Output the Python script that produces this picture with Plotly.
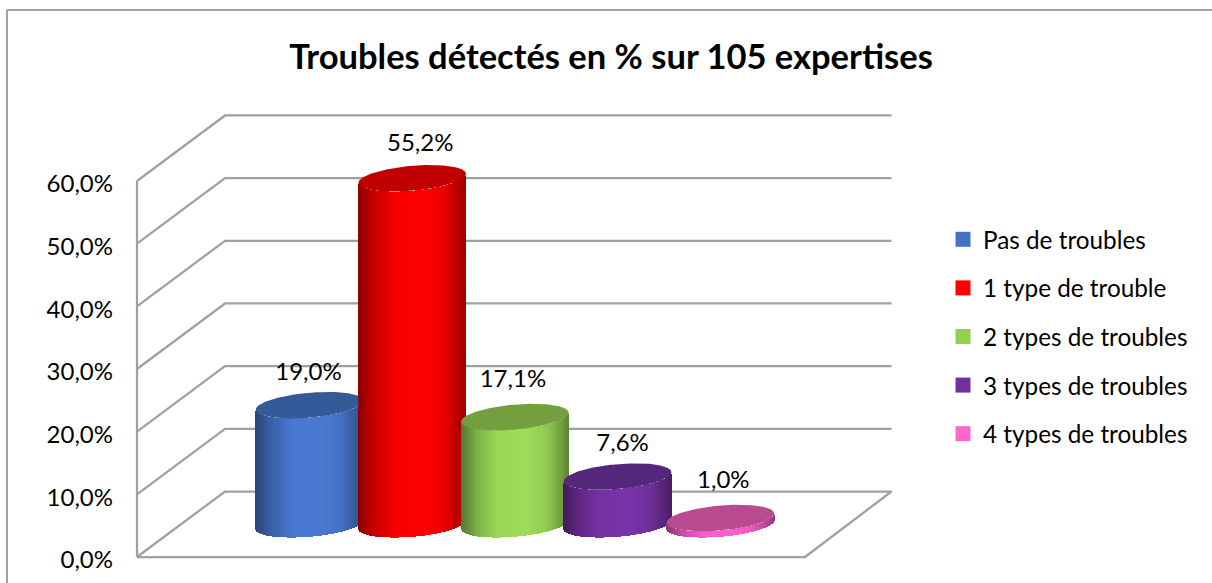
import numpy as np
import plotly.graph_objects as go

# ---------- data ----------
categories = ["Pas de troubles", "1 type de trouble", "2 types de troubles",
              "3 types de troubles", "4 types de troubles"]
values = [19.0, 55.2, 17.1, 7.6, 1.0]
tick_values = [0, 10, 20, 30, 40, 50, 60]
tick_labels = ["0,0%", "10,0%", "20,0%", "30,0%", "40,0%", "50,0%", "60,0%"]

# ---------- styles ----------
legend_colors = ["#4472C4", "#FF0000", "#92D050", "#7030A0", "#FF66CC"]
body_colors = [(74, 123, 212), (255, 0, 0), (158, 222, 90), (122, 51, 168), (255, 95, 208)]
cap_colors = ["#355A98", "#C00000", "#739F3F", "#54267C", "#B84A90"]
GRID = "#A0A0A0"
FONT = "Lato, Carlito, Calibri, sans-serif"

# ---------- scale: 1 category = PX_CAT px, 1 % = PX_VAL px ----------
W, H = 1212, 583
PX_CAT = 102.7
PX_VAL = 6.267
X_FIRST_PX = 309.5
Y_ZERO_PX = 557.0

x_range = [-X_FIRST_PX / PX_CAT, (W - X_FIRST_PX) / PX_CAT]
y_range = [-(H - Y_ZERO_PX) / PX_VAL, Y_ZERO_PX / PX_VAL]

# oblique box (category / value units)
WALL_X = (137 - X_FIRST_PX) / PX_CAT
DEPTH_X = 88 / PX_CAT
DEPTH_V = 65.5 / PX_VAL
FLOOR_W = 668 / PX_CAT
BASE_V = DEPTH_V / 2
BACK_END_TRIM = 1.5 / PX_CAT

# cylinder section (tilted ellipse)
RX = 53.8 / PX_CAT
RY = 12.5 / PX_VAL
TILT = 4.5 / PX_VAL

stops_t = [0.0, 0.05, 0.14, 0.34, 0.60, 0.80, 0.95, 1.0]
stops_f = [0.55, 0.62, 0.78, 0.97, 1.0, 0.92, 0.70, 0.60]

label_nudge_px = [(-1, 31), (8, 33), (-2, 36), (5, 32), (3, 36)]

fig = go.Figure()


def box_line(xs, ys):
    """A wall or floor line, drawn under every trace."""
    path = "M " + " L ".join(f"{a:.5f},{b:.5f}" for a, b in zip(xs, ys))
    return dict(type="path", path=path, xref="x", yref="y", layer="below",
                line=dict(color=GRID, width=2.25))


box_shapes = [
    box_line([WALL_X, WALL_X + DEPTH_X, WALL_X + DEPTH_X + FLOOR_W - BACK_END_TRIM],
             [v, v + DEPTH_V, v + DEPTH_V])
    for v in tick_values
]
box_shapes.append(box_line([WALL_X, WALL_X], [tick_values[0], tick_values[-1]]))
box_shapes.append(box_line([WALL_X, WALL_X + FLOOR_W, WALL_X + FLOOR_W + DEPTH_X - BACK_END_TRIM],
                           [0, 0, DEPTH_V]))

# cylinders: body = narrow bars with a horizontal shading, cap = tilted ellipse
strips = 108
u = (np.arange(strips) + 0.5) / strips * 2 - 1
for i, (val, name) in enumerate(zip(values, categories)):
    f = np.interp((u + 1) / 2, stops_t, stops_f)
    cols = [f"rgb({int(body_colors[i][0]*k)},{int(body_colors[i][1]*k)},{int(body_colors[i][2]*k)})" for k in f]
    base = BASE_V + TILT * u - RY * np.sqrt(1 - u ** 2)
    fig.add_trace(go.Bar(
        x=i + u * RX, y=[val] * strips, base=base,
        width=[2 * RX / strips * 1.1] * strips,
        marker=dict(color=cols, line=dict(width=0)),
        showlegend=False, hoverinfo="skip"))
    t = np.linspace(0, 2 * np.pi, 241)
    cap_x = i + RX * np.cos(t)
    # a taller neighbour in front hides the end of this cap
    if i + 1 < len(values) and values[i + 1] > val:
        cap_x = np.minimum(cap_x, i + 1 - RX)
    fig.add_trace(go.Scatter(
        x=cap_x,
        y=BASE_V + val + TILT * np.cos(t) + RY * np.sin(t),
        mode="lines", fill="toself", fillcolor=cap_colors[i],
        line=dict(width=0, color=cap_colors[i]), showlegend=False, hoverinfo="skip"))

# data labels
fig.add_trace(go.Scatter(
    x=[i + label_nudge_px[i][0] / PX_CAT for i in range(len(values))],
    y=[BASE_V + v + label_nudge_px[i][1] / PX_VAL for i, v in enumerate(values)],
    text=[f"{v:.1f}%".replace(".", ",") for v in values],
    mode="text", textposition="middle center",
    textfont=dict(family=FONT, size=24, color="#000000"),
    showlegend=False, hoverinfo="skip"))

# legend entries
for name, col in zip(categories, legend_colors):
    fig.add_trace(go.Scatter(
        x=[None], y=[None], mode="markers", name=name, legendgroup=name,
        marker=dict(symbol="square", size=15, color=col)))

fig.update_layout(
    width=W, height=H,
    margin=dict(l=0, r=0, t=0, b=0),
    autosize=False,
    paper_bgcolor="white", plot_bgcolor="white",
    barmode="overlay", bargap=0,
    font=dict(family=FONT, color="#000000"),
    title=dict(text="<b>Troubles détectés en % sur 105 expertises</b>",
               x=611 / W, xanchor="center", y=1 - 57 / H, yanchor="middle",
               font=dict(family=FONT, size=34.5, color="#000000")),
    xaxis=dict(range=x_range, visible=False, fixedrange=True),
    yaxis=dict(range=y_range, anchor="free", position=113 / W, side="left",
               tickmode="array", tickvals=tick_values, ticktext=tick_labels,
               showgrid=False, zeroline=False, showline=False, ticks="",
               ticklabelshift=3,
               tickfont=dict(family=FONT, size=24, color="#000000"), fixedrange=True),
    legend=dict(x=943 / W, y=1 - 217 / H, xanchor="left", yanchor="top",
                tracegroupgap=14, font=dict(family=FONT, size=24.3, color="#000000"),
                bgcolor="rgba(0,0,0,0)", itemclick=False, itemdoubleclick=False),
    shapes=box_shapes + [
        dict(type="line", xref="paper", yref="paper", x0=7 / W, x1=1, y0=1 - 10 / H, y1=1 - 10 / H,
             line=dict(color=GRID, width=2)),
        dict(type="line", xref="paper", yref="paper", x0=7 / W, x1=7 / W, y0=0, y1=1 - 10 / H,
             line=dict(color=GRID, width=2)),
    ],
)

fig.write_html("out.html", config=dict(displayModeBar=False),
               post_script="document.body.style.margin='0';document.body.style.overflow='hidden';")
